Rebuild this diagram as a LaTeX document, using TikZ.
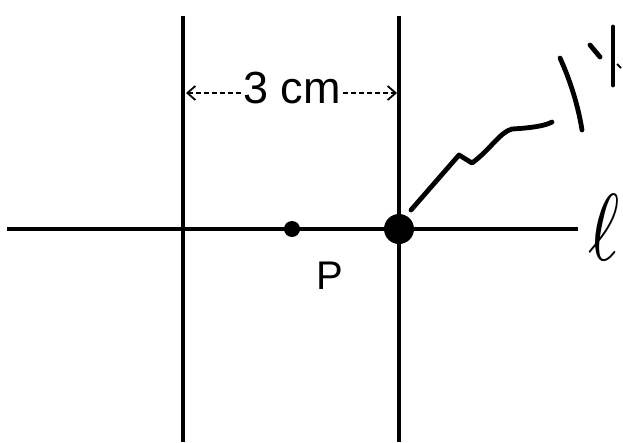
\documentclass[tikz,border=0pt]{standalone}
\usepackage{fontspec}
\setmainfont{Liberation Sans}
\usetikzlibrary{arrows.meta}
\begin{document}
\begin{tikzpicture}[x=1pt,y=-1pt,
  axis/.style={line width=3.2pt},
  dimarrow/.style={line width=1.6pt,dash pattern=on 5pt off 3pt,-{Straight Barb[length=8pt,width=14pt,line width=1.8pt]}},
  scribble/.style={line width=4.8pt,line cap=round,line join=round},
  lbl/.style={inner sep=0pt,font=\fontsize{42}{48}\selectfont}]
\useasboundingbox (0,0) rectangle (623,442);
\fill[white] (0,0) rectangle (623,442);
% lines
\coordinate (lt) at (183,16); \coordinate (lb) at (183,442);
\coordinate (rt) at (399,16); \coordinate (rb) at (399,442);
\coordinate (hl) at (7,229); \coordinate (hr) at (578,229);
\draw[axis] (lt) -- (lb);
\draw[axis] (rt) -- (rb);
\draw[axis] (hl) -- (hr);
% dimension
\node[lbl,font=\fontsize{45}{50}\selectfont] (dim) at (292,88) {3 cm};
\coordinate (al) at (186,93); \coordinate (ar) at (397,93);
\draw[dimarrow] (dim.west |- al) ++(-2,0) -- (al);
\draw[dimarrow] (dim.east |- ar) ++(2,0) -- (ar);
% points
\node[circle,fill=black,minimum size=16pt,inner sep=0pt] (p) at (292,229) {};
\node[circle,fill=black,minimum size=30pt,inner sep=0pt] (q) at (399,229) {};
\node[lbl,font=\fontsize{40}{46}\selectfont] (plbl) at (330,276) {P};
% ell
\node[inner sep=0pt,xscale=7.5,yscale=9.5] (ell) at (604,228) {$\ell$};
% handwriting scribbles
\draw[scribble] (q) ++(12,-19) -- (459,155) -- (472,163) .. controls (490,150) and (500,132) .. (512,129) .. controls (530,128) and (545,126) .. (552,122);
\draw[scribble] (560,58) .. controls (570,80) and (578,105) .. (582,130);
\draw[scribble] (590,45) -- (600,57);
\draw[scribble] (613,27) -- (613,85);
\draw[line width=2pt] (617,64) -- (621,68);
\end{tikzpicture}
\end{document}
